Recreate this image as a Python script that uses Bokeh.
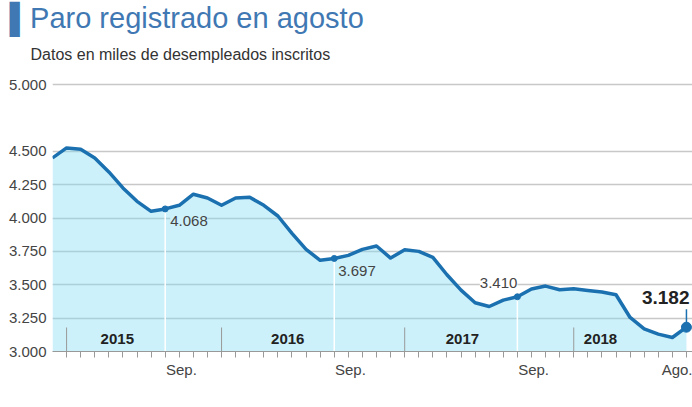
from bokeh.core.properties import value
from bokeh.embed import file_html
from bokeh.models import FixedTicker, Label, Range1d, Title
from bokeh.plotting import figure
from bokeh.resources import INLINE

# Paro registrado, miles de personas: one value per month tick, Dec 2014 .. Aug 2018
MONTHS = list(range(46))
PARO = [
    4450, 4525, 4515, 4450, 4345, 4225, 4125, 4050, 4068, 4095, 4178, 4150,
    4095, 4150, 4155, 4095, 4015, 3885, 3765, 3683, 3697, 3720, 3765, 3790,
    3700, 3762, 3750, 3705, 3575, 3460, 3365, 3337, 3385, 3410, 3468, 3490,
    3463, 3470, 3457, 3445, 3425, 3255, 3170, 3130, 3105, 3182,
]
HIGHLIGHT = [8, 20, 33, 45]          # month indexes of the labelled values
YEARS = ["2015", "2016", "2017", "2018"]
YEAR_START = [1, 12, 25, 37]         # year divider ticks
YEAR_LABEL_AT = [4.6, 16.7, 29.1, 38.9]
MONTH_LABELS = ["Sep.", "Sep.", "Sep.", "Ago."]
MONTH_LABEL_AT = [9.15, 21.15, 34.15, 45.0]
Y_TICKS = [3000, 3250, 3500, 3750, 4000, 4250, 4500, 5000]

FONT = "Liberation Sans"
BLUE = "#1b70b0"
FILL = "#7fdcf2"
FILL_SEEN = "#ccf1fa"


def miles(v):
    return f"{v:,}".replace(",", ".")


p = figure(
    width=692,
    height=407,
    x_range=Range1d(0, 45.43),
    y_range=Range1d(3000, 5015),
    min_border_left=52,
    min_border_right=0,
    min_border_top=82,
    min_border_bottom=56,
    output_backend="svg",
    toolbar_location=None,
)
p.outline_line_color = None
p.xgrid.grid_line_color = None
p.ygrid.ticker = FixedTicker(ticks=Y_TICKS)
p.ygrid.grid_line_color = "#c8c8c8"
p.ygrid.grid_line_width = 1.5

ya = p.yaxis[0]
ya.ticker = FixedTicker(ticks=Y_TICKS)
ya.major_label_overrides = {t: miles(t) for t in Y_TICKS}
ya.axis_line_color = None
ya.major_tick_out = 0
ya.major_tick_in = 0
ya.minor_tick_line_color = None
ya.major_label_standoff = 6
ya.major_label_text_font = FONT
ya.major_label_text_font_size = "15px"
ya.major_label_text_color = "#444444"

xa = p.xaxis[0]
xa.ticker = FixedTicker(ticks=MONTH_LABEL_AT, minor_ticks=MONTHS[1:])
xa.major_label_overrides = dict(zip(MONTH_LABEL_AT, MONTH_LABELS))
xa.axis_line_color = "#999999"
xa.major_tick_in = 0
xa.major_tick_out = 0
xa.minor_tick_in = 0
xa.minor_tick_out = 6
xa.minor_tick_line_color = "#999999"
xa.major_label_standoff = 3
xa.major_label_text_font = FONT
xa.major_label_text_font_size = "15px"
xa.major_label_text_color = "#444444"

p.varea(x=MONTHS, y1=3000, y2=PARO, fill_color=FILL, fill_alpha=0.4)

hl_v = [PARO[k] for k in HIGHLIGHT]
p.segment(x0=HIGHLIGHT[:3], y0=3000, x1=HIGHLIGHT[:3], y1=hl_v[:3],
          line_color="white", line_width=1.5)
p.segment(x0=YEAR_START, y0=3000, x1=YEAR_START, y1=3180,
          line_color="#999999", line_width=1)
p.segment(x0=[HIGHLIGHT[-1]], y0=[hl_v[-1]], x1=[HIGHLIGHT[-1]], y1=[hl_v[-1] + 135],
          line_color=BLUE, line_width=1.5)

p.line(MONTHS, PARO, line_color=BLUE, line_width=3.5, line_join="round")
p.scatter(HIGHLIGHT[:3], hl_v[:3], size=6, color=BLUE)
p.scatter(HIGHLIGHT[-1:], hl_v[-1:], size=10, color=BLUE)

p.text(x=YEAR_LABEL_AT, y=3097, text=YEARS, text_font=value(FONT),
       text_font_style="bold", text_font_size="15px", text_color="#222222",
       text_align="center", text_baseline="middle")

# value callouts
callouts = [
    dict(x_offset=5, y_offset=-12, text_align="left", bg=FILL_SEEN),
    dict(x_offset=4, y_offset=-13, text_align="left", bg=FILL_SEEN),
    dict(x_offset=0, y_offset=14, text_align="right", bg="white"),
]
for k, v, c in zip(HIGHLIGHT, hl_v, callouts):
    p.add_layout(Label(x=k, y=v, text=miles(v), x_offset=c["x_offset"],
                       y_offset=c["y_offset"], text_align=c["text_align"],
                       text_baseline="middle", text_font=FONT,
                       text_font_size="15px", text_color="#444444",
                       background_fill_color=c["bg"]))
p.add_layout(Label(x=HIGHLIGHT[-1], y=hl_v[-1], text=miles(hl_v[-1]),
                   x_offset=3, y_offset=30, text_align="right",
                   text_baseline="middle", text_font=FONT,
                   text_font_style="bold", text_font_size="19px",
                   text_color="#222222"))

# heading: subtitle first (closest to the plot), then the title
p.add_layout(Title(text="Datos en miles de desempleados inscritos", align="left",
                   offset=-22, standoff=40, text_font=FONT,
                   text_font_style="normal", text_font_size="16px",
                   text_color="#333333"), "above")
p.add_layout(Title(text="\u258cParo registrado en agosto", align="left",
                   offset=-43, standoff=-20, text_font=FONT,
                   text_font_style="normal", text_font_size="29px",
                   text_color="#3f78b2"), "above")

open("out.html", "w").write(file_html(p, INLINE))
